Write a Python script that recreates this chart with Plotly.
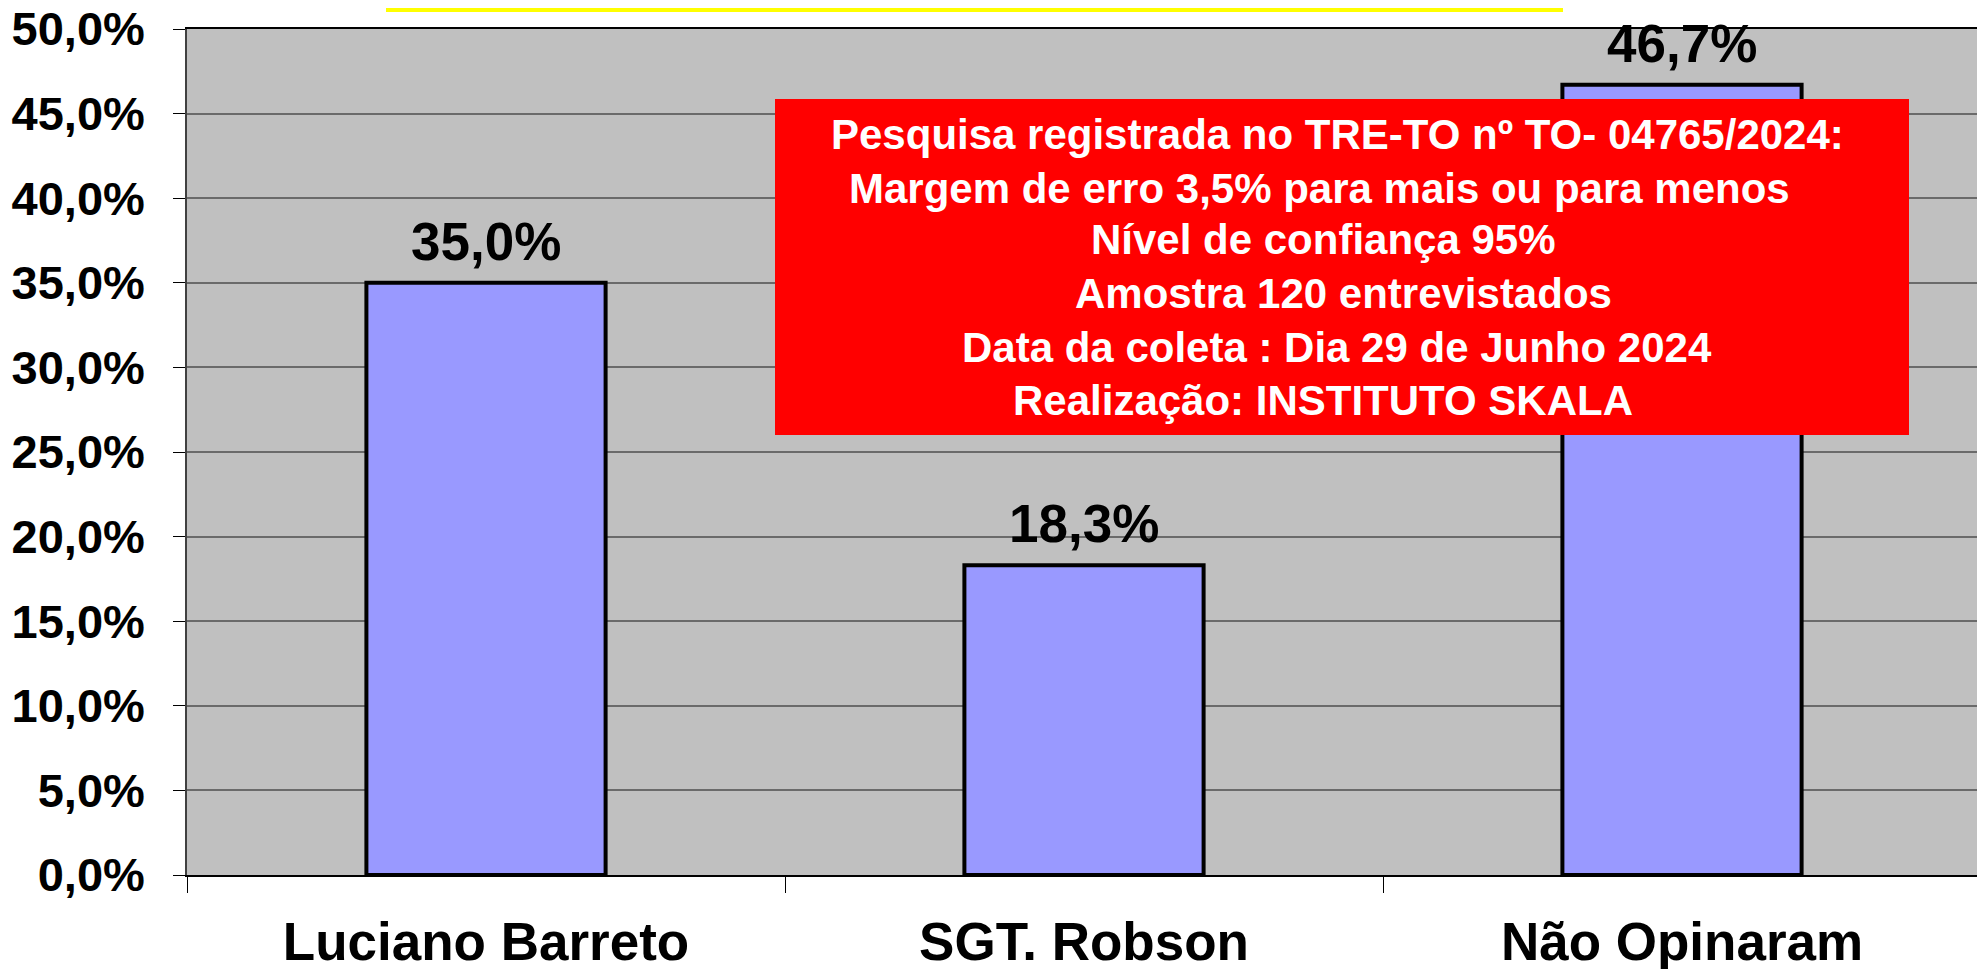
import plotly.graph_objects as go

categories = ["Luciano Barreto", "SGT. Robson", "Não Opinaram"]
values = [35.0, 18.3, 46.7]
y_ticks = [0, 5, 10, 15, 20, 25, 30, 35, 40, 45, 50]
y_tick_labels = [f"{v:.1f}%".replace(".", ",") for v in y_ticks]
value_labels = [f"{v:.1f}%".replace(".", ",") for v in values]
note_lines = [
    "Pesquisa registrada no TRE-TO nº TO- 04765/2024:",
    "Margem de erro 3,5% para mais ou para menos",
    "Nível de confiança 95%",
    "Amostra 120 entrevistados",
    "Data da coleta : Dia 29 de Junho 2024",
    "Realização: INSTITUTO SKALA",
]

FONT = "Liberation Sans, Arial, sans-serif"
OFF = 8  # default page body margin
W, H = 1985 - OFF, 969 - OFF
ML, MR, MT, MB = 187 - OFF, 4, 29 - OFF, 94
PW, PH = W - ML - MR, H - MT - MB

fig = go.Figure()
fig.add_trace(go.Bar(
    x=categories, y=values, width=0.4,
    marker=dict(color="#9999FF", line=dict(color="black", width=4)),
))

for c, v, lab in zip(categories, values, value_labels):
    fig.add_annotation(x=c, y=v, text=lab, showarrow=False,
                       xanchor="center", yanchor="bottom", yshift=10,
                       font=dict(family=FONT, size=53, color="black", weight="bold"))

fig.update_layout(
    width=W, height=H,
    margin=dict(l=ML, r=MR, t=MT, b=MB, autoexpand=False),
    paper_bgcolor="white", plot_bgcolor="#C0C0C0",
    showlegend=False,
    xaxis=dict(
        showline=True, linecolor="black", linewidth=1.5, mirror=True,
        ticks="outside", ticklen=16, tickcolor="black",
        tickson="boundaries", automargin=False,
        tickfont=dict(family=FONT, size=53, color="black", weight="bold"),
        ticklabelstandoff=20, ticklabeloverflow="allow",
    ),
    yaxis=dict(
        range=[0, 50], tickvals=y_ticks, ticktext=y_tick_labels,
        showline=True, linecolor="#404040", linewidth=1.5, mirror=True,
        ticks="outside", ticklen=12, tickcolor="black",
        showgrid=True, gridcolor="#6a6a6a", gridwidth=1.5,
        tickfont=dict(family=FONT, size=47, color="black", weight="bold"),
        ticklabelstandoff=19, zeroline=False, automargin=False,
        ticklabeloverflow="allow",
    ),
)

def px_x(x):
    # x given in page pixels
    return (x - OFF - ML) / PW

def px_y(y):
    # y given in page pixels
    return (H - MB - (y - OFF)) / PH

# yellow title box (cut off at top of the page)
fig.add_shape(type="rect", xref="paper", yref="paper",
              x0=px_x(386), x1=px_x(1563), y0=px_y(12), y1=px_y(-20),
              fillcolor="#FFFF00", line=dict(width=0), layer="above")

# red info box
fig.add_shape(type="rect", xref="paper", yref="paper",
              x0=px_x(775), x1=px_x(1909), y0=px_y(435), y1=px_y(99),
              fillcolor="#FF0000", line=dict(width=0), layer="above")

line_y = [134, 188, 239, 293, 347, 400]
line_x = [1337, 1319, 1323, 1343, 1337, 1323]
for t, yy, xx in zip(note_lines, line_y, line_x):
    fig.add_annotation(text=t, xref="paper", yref="paper",
                       x=px_x(xx), y=px_y(yy), xanchor="center", yanchor="middle",
                       showarrow=False,
                       font=dict(family=FONT, size=42, color="white", weight="bold"))

fig.write_html("out.html")
